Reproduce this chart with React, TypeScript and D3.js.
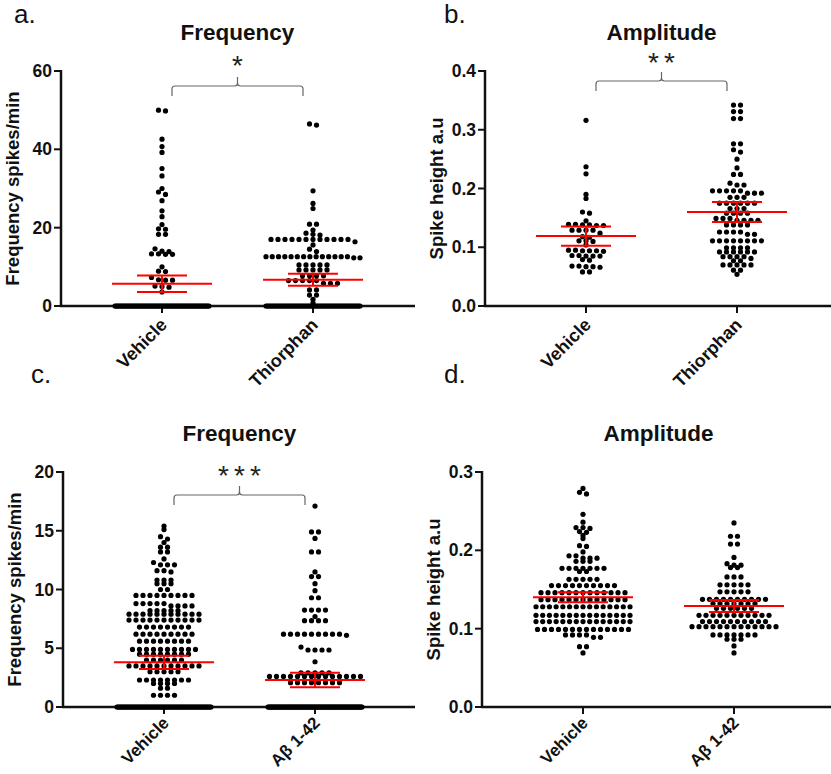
import * as d3 from 'd3';

// ---- data ----
// a. Frequency (spikes/min), Vehicle vs Thiorphan
const freqVehicleA = [50.0, 49.8, 42.6, 40.7, 39.2, 35.1, 33.2, 30.0, 29.1, 28.5, 26.9, 24.3, 22.8, 20.8, 19.7, 19.6, 18.3, 18.3, 14.6, 14.0, 13.9, 13.3, 13.2, 13.2, 13.3, 10.0, 8.9, 8.8, 7.3, 6.7, 6.6, 6.6, 5.1, 5.0, 4.8, 3.6];
const freqThiorphanA = [46.5, 46.2, 29.4, 26.2, 24.9, 20.9, 20.9, 19.4, 18.6, 18.3, 18.1,
	17.0, 17.0, 17.0, 17.0, 17.0, 17.0, 17.0, 17.0, 17.0, 17.0, 17.0, 17.0, 16.4, 15.6, 14.5, 13.9,
	12.6, 12.6, 12.6, 12.6, 12.6, 12.6, 12.6, 12.6, 12.6, 12.6, 12.6, 12.6, 12.6, 12.6, 12.3, 12.3,
	10.5, 10.5, 10.5, 10.5, 10.5, 9.2, 9.2, 9.2, 9.2, 9.2, 7.7, 7.7, 7.7, 7.7,
	6.5, 6.5, 6.5, 6.5, 6.5, 5.8, 5.8, 5.8, 4.1, 4.1, 2.8, 2.8, 1.7, 0.8];
const zeroVehicleA = 84;
const zeroThiorphanA = 70;

// b. Amplitude (spike height a.u)
const ampVehicleB = [0.316, 0.237, 0.225, 0.190, 0.183, 0.160, 0.158, 0.145, 0.139, 0.139, 0.138, 0.138, 0.137, 0.137,
	0.129, 0.129, 0.129, 0.129, 0.124, 0.118, 0.117, 0.111, 0.111, 0.110, 0.104, 0.095, 0.095, 0.094, 0.094, 0.094, 0.093,
	0.086, 0.086, 0.085, 0.085, 0.085, 0.079, 0.078, 0.068, 0.068, 0.067, 0.067, 0.066, 0.058, 0.058];
const ampThiorphanB = [0.342, 0.342, 0.331, 0.331, 0.319, 0.319, 0.276, 0.276, 0.266, 0.262, 0.250, 0.235, 0.224, 0.224,
	0.209, 0.206, 0.206, 0.196, 0.196, 0.196, 0.196, 0.196, 0.192, 0.192, 0.192, 0.185, 0.185, 0.185,
	0.175, 0.175, 0.175, 0.175, 0.175, 0.175, 0.166, 0.166, 0.166, 0.158, 0.158, 0.158, 0.158,
	0.149, 0.149, 0.149, 0.146, 0.146, 0.146, 0.146, 0.138, 0.138, 0.138, 0.138, 0.126, 0.126, 0.126, 0.126, 0.122, 0.122,
	0.111, 0.111, 0.111, 0.111, 0.111, 0.111, 0.111, 0.111, 0.099, 0.099, 0.099, 0.099,
	0.092, 0.092, 0.092, 0.092, 0.092, 0.092, 0.084, 0.084, 0.084, 0.084, 0.081, 0.077, 0.077,
	0.070, 0.070, 0.070, 0.070, 0.070, 0.061, 0.061, 0.054];

// c. Frequency, Vehicle vs Aβ 1-42
const freqVehicleC = [15.4, 15.1, 14.5, 14.3, 14.0, 13.6, 13.6, 13.2, 13.2, 12.6, 12.3, 12.1, 12.1, 12.1, 11.6, 11.6, 11.5,
	10.8, 10.8, 10.8, 10.5, 10.5, 10.5, 10.0, 10.0,
	9.5, 9.5, 9.5, 9.5, 9.5, 9.5, 9.5, 9.5, 9.5, 8.8, 8.8, 8.8, 8.8, 8.8, 8.6, 8.6, 8.6, 8.6,
	8.2, 8.2, 8.2, 8.2, 8.2, 7.9, 7.9, 7.9, 7.9, 7.9, 7.9, 7.9, 7.9, 7.9, 7.9, 7.9,
	7.4, 7.4, 7.4, 7.4, 7.4, 7.4, 7.4, 7.4, 7.4, 7.4, 7.4, 6.8, 6.8, 6.8, 6.8, 6.8, 6.8, 6.8, 6.8,
	6.2, 6.2, 6.2, 6.2, 6.2, 6.2, 6.2, 6.2, 6.2, 5.6, 5.6, 5.6, 5.6, 5.6, 5.6, 5.6, 5.6,
	4.9, 4.9, 4.9, 4.9, 4.9, 4.9, 4.9, 4.9, 4.9, 4.9, 4.5, 4.5, 4.5, 4.5, 4.5, 4.5, 4.5, 4.5,
	4.0, 4.0, 4.0, 4.0, 4.0, 4.0, 3.5, 3.5, 3.5, 3.5, 3.5, 3.5, 3.5, 3.5, 3.5, 3.5, 3.5,
	3.0, 3.0, 3.0, 3.0, 3.0, 2.3, 2.3, 2.3, 2.3, 2.3, 2.3, 2.3, 2.3, 2.0, 2.0, 2.0, 2.0, 1.6, 1.6, 1.0, 1.0, 1.0, 1.0];
const freqAbetaC = [17.1, 14.9, 14.9, 14.35, 13.2, 13.2, 11.5, 11.1, 11.1, 10.5, 9.9, 9.3, 9.3,
	8.25, 8.25, 8.25, 8.25, 7.7, 7.35, 7.35, 7.35, 7.35,
	6.2, 6.2, 6.2, 6.2, 6.2, 6.2, 6.2, 6.2, 6.2, 6.1, 5.1, 4.85, 4.85, 4.85, 4.85, 3.85,
	2.9, 2.9, 2.9, 2.9, 2.9, 2.6, 2.6, 2.6, 2.6, 2.6, 2.6, 2.6, 2.6, 2.6, 2.6, 2.6, 2.6, 2.6, 2.6,
	2.07, 2.07, 2.07, 2.07, 2.07, 2.07, 2.07, 2.07];
const zeroVehicleC = 90;
const zeroAbetaC = 110;

// d. Amplitude, Vehicle vs Aβ 1-42
const ampVehicleD = [0.279, 0.274, 0.272, 0.246, 0.236, 0.229, 0.229, 0.228, 0.224, 0.223, 0.219, 0.215, 0.206, 0.205,
	0.198, 0.193, 0.193, 0.190, 0.190, 0.190, 0.186, 0.186, 0.186,
	0.177, 0.177, 0.177, 0.177, 0.177, 0.177, 0.177, 0.173, 0.173, 0.163, 0.163, 0.163, 0.163, 0.163,
	0.155, 0.155, 0.155, 0.155, 0.155, 0.155, 0.155, 0.155, 0.155, 0.155,
	0.146, 0.146, 0.146, 0.146, 0.146, 0.146, 0.146, 0.146, 0.146, 0.146, 0.146, 0.146, 0.146,
	0.137, 0.137, 0.137, 0.137, 0.137, 0.137, 0.137, 0.137, 0.137, 0.137, 0.137, 0.137, 0.137,
	0.128, 0.128, 0.128, 0.128, 0.128, 0.128, 0.128, 0.128, 0.128, 0.128, 0.128, 0.128, 0.128, 0.128, 0.128,
	0.117, 0.117, 0.117, 0.117, 0.117, 0.117, 0.117, 0.117, 0.117, 0.117, 0.117, 0.117, 0.117, 0.117, 0.117,
	0.109, 0.109, 0.109, 0.109, 0.109, 0.109, 0.109, 0.109, 0.109, 0.109, 0.109, 0.109, 0.109, 0.109, 0.109,
	0.099, 0.099, 0.099, 0.099, 0.099, 0.099, 0.099, 0.099, 0.099, 0.099, 0.099, 0.099, 0.099, 0.099,
	0.092, 0.092, 0.092, 0.092, 0.089, 0.089, 0.077, 0.077, 0.069];
const ampAbetaD = [0.235, 0.218, 0.218, 0.208, 0.208, 0.191, 0.183, 0.181, 0.181, 0.178, 0.178, 0.166, 0.166, 0.166,
	0.156, 0.156, 0.156, 0.156, 0.156, 0.147, 0.147, 0.147, 0.147, 0.147,
	0.1375, 0.1375, 0.1375, 0.1375, 0.1375, 0.1375, 0.1375, 0.1375, 0.1375, 0.1375,
	0.132, 0.132, 0.132, 0.132, 0.132, 0.132, 0.132, 0.126, 0.126, 0.126, 0.126, 0.126, 0.126,
	0.117, 0.117, 0.117, 0.117, 0.117, 0.117, 0.117, 0.117, 0.117, 0.117, 0.117,
	0.109, 0.109, 0.109, 0.109, 0.109, 0.109, 0.109, 0.109, 0.109, 0.109,
	0.1025, 0.1025, 0.1025, 0.1025, 0.1025, 0.1025, 0.1025, 0.1025, 0.1025, 0.1025, 0.1025, 0.1025, 0.1025,
	0.092, 0.092, 0.092, 0.092, 0.092, 0.092, 0.092, 0.0865, 0.0865, 0.0865, 0.078, 0.069];

// mean and SEM
const meansA = [5.7, 6.7];
const semsA = [2.1, 1.55];
const meansB = [0.119, 0.160];
const semsB = [0.0165, 0.017];
const meansC = [3.8, 2.3];
const semsC = [0.57, 0.62];
const meansD = [0.140, 0.129];
const semsD = [0.0064, 0.0077];

const catsTop = ['Vehicle', 'Thiorphan'];
const catsBottom = ['Vehicle', 'Aβ 1-42'];
const ticksFreqA = [0, 20, 40, 60];
const ticksAmpB = [0, 0.1, 0.2, 0.3, 0.4];
const ticksFreqC = [0, 5, 10, 15, 20];
const ticksAmpD = [0, 0.1, 0.2, 0.3];

const zeros = (n: number) => Array.from({ length: n }, () => 0);

const FONT = '"Liberation Sans", Arial, sans-serif';

const panels = [
	{
		letter: 'a.', letterX: 14, letterY: 23, title: 'Frequency', yLabel: 'Frequency spikes/min',
		axisX: 61, top: 71, bottom: 306, right: 415, domain: [0, 60], ticks: ticksFreqA, fmt: d3.format('d'),
		cats: catsTop, groups: [freqVehicleA.concat(zeros(zeroVehicleA)), freqThiorphanA.concat(zeros(zeroThiorphanA))],
		means: meansA, sems: semsA, stars: 1, starY: 75, bracketY: 86, labelDy: 20, labelSize: 18,
	},
	{
		letter: 'b.', letterX: 444, letterY: 23, title: 'Amplitude', yLabel: 'Spike height a.u',
		axisX: 485, top: 71, bottom: 306, right: 831, domain: [0, 0.4], ticks: ticksAmpB, fmt: d3.format('.1f'),
		cats: catsTop, groups: [ampVehicleB, ampThiorphanB],
		means: meansB, sems: semsB, stars: 2, starY: 72, bracketY: 81, labelDy: 20, labelSize: 18,
	},
	{
		letter: 'c.', letterX: 31, letterY: 383, title: 'Frequency', yLabel: 'Frequency spikes/min',
		axisX: 63, top: 472, bottom: 707, right: 415, domain: [0, 20], ticks: ticksFreqC, fmt: d3.format('d'),
		cats: catsBottom, groups: [freqVehicleC.concat(zeros(zeroVehicleC)), freqAbetaC.concat(zeros(zeroAbetaC))],
		means: meansC, sems: semsC, stars: 3, starY: 485, bracketY: 495, labelDy: 17, labelSize: 17,
	},
	{
		letter: 'd.', letterX: 444, letterY: 383, title: 'Amplitude', yLabel: 'Spike height a.u',
		axisX: 482, top: 472, bottom: 707, right: 831, domain: [0, 0.3], ticks: ticksAmpD, fmt: d3.format('.1f'),
		cats: catsBottom, groups: [ampVehicleD, ampAbetaD],
		means: meansD, sems: semsD, stars: 0, starY: 0, bracketY: 0, labelDy: 17, labelSize: 17,
	},
];

// GraphPad-like scatter: values with (nearly) the same height sit side by side in a row
function swarm(values, y, cx, spacing = 7, maxHalf = 47, thresh = 3) {
	const sorted = [...values].sort((a, b) => b - a);
	const rows = [];
	let cur = [];
	let startY = 0;
	for (const v of sorted) {
		const py = y(v);
		if (cur.length && py - startY > thresh) {
			rows.push(cur);
			cur = [];
		}
		if (!cur.length) startY = py;
		cur.push(v);
	}
	if (cur.length) rows.push(cur);

	const pts = [];
	rows.forEach((row) => {
		const n = row.length;
		const s = n > 1 ? Math.min(spacing, (2 * maxHalf) / (n - 1)) : 0;
		row.forEach((v, i) => pts.push({ x: cx + (i - (n - 1) / 2) * s, y: y(v) }));
	});
	return pts;
}

function Panel({ p }) {
	const y = d3.scaleLinear().domain(p.domain).range([p.bottom, p.top]);
	const x = d3.scalePoint().domain(p.cats).range([p.axisX + 101, p.axisX + 252]);
	const titleX = (x(p.cats[0]) + x(p.cats[1])) / 2;
	const yMid = (p.top + p.bottom) / 2;

	const bx1 = x(p.cats[0]) + 10;
	const bx2 = x(p.cats[1]) - 10;
	const bm = (bx1 + bx2) / 2;
	const by = p.bracketY;
	const bracket =
		`M${bx1},${by + 10} L${bx1},${by + 3} Q${bx1},${by} ${bx1 + 3},${by} L${bm - 3},${by} Q${bm},${by} ${bm},${by - 3} L${bm},${by - 9}` +
		` M${bm},${by - 3} Q${bm},${by} ${bm + 3},${by} L${bx2 - 3},${by} Q${bx2},${by} ${bx2},${by + 3} L${bx2},${by + 10}`;

	return (
		<g fontFamily={FONT}>
			<text x={p.letterX} y={p.letterY} fontSize={26} fill='#111'>
				{p.letter}
			</text>
			<text x={titleX} y={p.top - 31} fontSize={22.5} fontWeight='bold' textAnchor='middle' fill='#111'>
				{p.title}
			</text>

			{/* significance */}
			{p.stars > 0 && (
				<g>
					{d3.range(p.stars).map((i) => (
						<text key={i} x={titleX + (i - (p.stars - 1) / 2) * 16} y={p.starY} fontSize={28} textAnchor='middle' fill='#222'>
							*
						</text>
					))}
					<path d={bracket} fill='none' stroke='#666' strokeWidth={1.2} />
				</g>
			)}

			{/* y axis */}
			<line x1={p.axisX} x2={p.axisX} y1={p.top - 1} y2={p.bottom} stroke='#111' strokeWidth={2.5} />
			{p.ticks.map((t) => (
				<g key={t}>
					<line x1={p.axisX - 7} x2={p.axisX} y1={y(t)} y2={y(t)} stroke='#111' strokeWidth={2} />
					<text x={p.axisX - 9} y={y(t) + 6} fontSize={17.5} fontWeight='bold' textAnchor='end' fill='#111'>
						{p.fmt(t)}
					</text>
				</g>
			))}
			<text
				transform={`translate(${p.axisX - 42},${yMid}) rotate(-90)`}
				fontSize={18.5}
				fontWeight='bold'
				textAnchor='middle'
				fill='#111'>
				{p.yLabel}
			</text>

			{/* x axis */}
			<line x1={p.axisX - 1} x2={p.right} y1={p.bottom} y2={p.bottom} stroke='#111' strokeWidth={2.5} />
			{p.cats.map((c) => (
				<g key={c}>
					<line x1={x(c)} x2={x(c)} y1={p.bottom} y2={p.bottom + 7} stroke='#111' strokeWidth={2} />
					<text
						transform={`translate(${x(c) + 6},${p.bottom + p.labelDy}) rotate(-45)`}
						fontSize={p.labelSize}
						fontWeight='bold'
						textAnchor='end'
						fill='#111'>
						{c}
					</text>
				</g>
			))}

			{/* points */}
			{p.groups.map((vals, gi) =>
				swarm(vals, y, x(p.cats[gi])).map((pt, i) => (
					<circle key={gi + '-' + i} cx={pt.x} cy={pt.y} r={2.6} fill='#000' />
				))
			)}

			{/* mean ± SEM */}
			{p.means.map((m, gi) => {
				const cx = x(p.cats[gi]);
				const s = p.sems[gi];
				return (
					<g key={gi} stroke='#ff0000' strokeWidth={2}>
						<line x1={cx - 50} x2={cx + 50} y1={y(m)} y2={y(m)} />
						<line x1={cx - 25} x2={cx + 25} y1={y(m + s)} y2={y(m + s)} />
						<line x1={cx - 25} x2={cx + 25} y1={y(m - s)} y2={y(m - s)} />
						<line x1={cx} x2={cx} y1={y(m + s)} y2={y(m - s)} />
					</g>
				);
			})}
		</g>
	);
}

export default function App() {
	return (
		<svg width={831} height={774} style={{ position: 'absolute', left: 0, top: 0, background: '#fff' }}>
			<rect width={831} height={774} fill='#fff' />
			{panels.map((p, i) => (
				<Panel key={i} p={p} />
			))}
		</svg>
	);
}
